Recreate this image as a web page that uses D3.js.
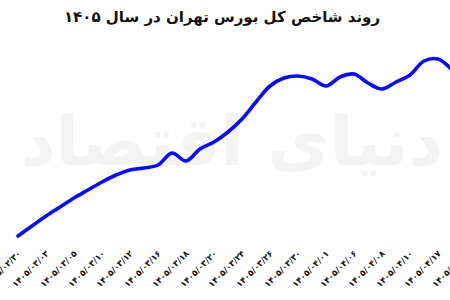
<!DOCTYPE html>
<html>
<head>
<meta charset="utf-8">
<script src="https://cdn.jsdelivr.net/npm/d3@7"></script>
<style>
  body { margin: 0; background: #fff; }
  svg { display: block; }
</style>
</head>
<body>
<svg id="chart" width="450" height="300"></svg>
<script>
// tick dates (every second trading day)
const dates = ["۱۴۰۵/۰۲/۳۰", "۱۴۰۵/۰۳/۰۳", "۱۴۰۵/۰۳/۰۵", "۱۴۰۵/۰۳/۱۰", "۱۴۰۵/۰۳/۱۲",
  "۱۴۰۵/۰۳/۱۶", "۱۴۰۵/۰۳/۱۸", "۱۴۰۵/۰۳/۲۰", "۱۴۰۵/۰۳/۲۴", "۱۴۰۵/۰۳/۲۶",
  "۱۴۰۵/۰۳/۳۰", "۱۴۰۵/۰۴/۰۱", "۱۴۰۵/۰۴/۰۶", "۱۴۰۵/۰۴/۰۸", "۱۴۰۵/۰۴/۱۰",
  "۱۴۰۵/۰۴/۱۷", "۱۴۰۵/۰۴/۲۱"];

// index value, one reading per trading day (estimated, thousand units)
const values = [2570, 2620, 2670, 2715, 2760, 2800, 2840, 2875, 2900, 2910,
  2925, 2985, 2945, 3005, 3040, 3090, 3155, 3240, 3320, 3360,
  3370, 3355, 3320, 3365, 3380, 3335, 3305, 3340, 3375, 3445,
  3455, 3400];

const title = "روند شاخص کل بورس تهران در سال ۱۴۰۵";
const watermark = "دنیای اقتصاد";

const svg = d3.select("#chart");
const width = 450, height = 300;

const x = d3.scaleLinear()
    .domain([0, 32])
    .range([18, 466]);

const y = d3.scaleLinear()
    .domain([2500, 3500])
    .range([250, 50]);

// watermark
svg.append("text")
    .attr("x", 232)
    .attr("y", 165)
    .attr("text-anchor", "middle")
    .attr("direction", "rtl")
    .style("font-family", "DejaVu Sans")
    .style("font-weight", "bold")
    .style("font-size", "68px")
    .attr("fill", "#f3f3f3")
    .text(watermark);

// title
svg.append("text")
    .attr("x", 222)
    .attr("y", 22)
    .attr("text-anchor", "middle")
    .attr("direction", "rtl")
    .style("font-family", "DejaVu Sans")
    .style("font-weight", "bold")
    .style("font-size", "15px")
    .attr("fill", "#111")
    .text(title);

// x axis, labels only
const xAxis = d3.axisBottom(x)
    .tickValues(dates.map((d, i) => i * 2))
    .tickFormat(i => dates[i / 2])
    .tickSize(0)
    .tickPadding(0);

const gx = svg.append("g")
    .attr("transform", "translate(0,252)")
    .call(xAxis);
gx.select(".domain").remove();
gx.selectAll("text")
    .attr("text-anchor", "end")
    .attr("dy", 0)
    .attr("transform", "translate(3,2) rotate(-45)")
    .style("font-family", "DejaVu Sans")
    .style("font-weight", "bold")
    .style("font-size", "8.5px")
    .attr("fill", "#111");

// line
const line = d3.line()
    .x((d, i) => x(i))
    .y(d => y(d))
    .curve(d3.curveCatmullRom.alpha(0.5));

svg.append("path")
    .datum(values)
    .attr("fill", "none")
    .attr("stroke", "#0a0aff")
    .attr("stroke-width", 3.6)
    .attr("stroke-linecap", "round")
    .attr("d", line);
</script>
</body>
</html>
